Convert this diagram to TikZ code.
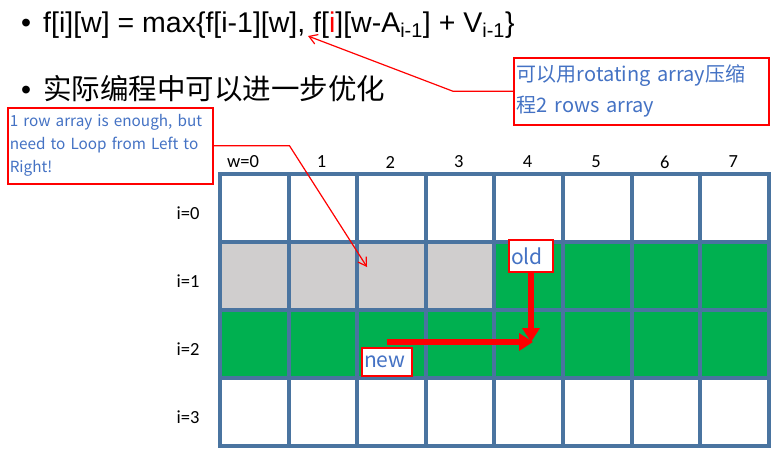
\documentclass[tikz,border=0pt]{standalone}
\usepackage{fontspec}
\setmainfont{Liberation Sans}
\newfontfamily\cjk{Noto Sans CJK SC}
\newfontfamily\labelfont{Carlito}
\usepackage{tikz}
\usetikzlibrary{arrows.meta, positioning, calc}
\usepackage{xcolor}
\definecolor{gridblue}{HTML}{4A74A0}
\definecolor{cellgray}{HTML}{D0CECE}
\definecolor{cellgreen}{HTML}{00B050}
\definecolor{notered}{HTML}{FF0000}
\definecolor{noteblue}{HTML}{4472C4}
\tikzstyle{cell} = [rectangle, draw=gridblue, line width=4pt, fill=white, minimum width=68.625pt, minimum height=68pt, inner sep=0pt]
\tikzstyle{callout} = [draw=notered, line width=1.2pt, -{Straight Barb[length=8pt,width=10pt]}]
\tikzstyle{bigarrow} = [draw=notered, line width=6pt, -{Triangle[length=14pt,width=17pt]}]
\tikzstyle{note} = [rectangle, draw=notered, line width=1.5pt, fill=white, align=left, text=noteblue]

\begin{document}
\begin{tikzpicture}[x=1pt, y=-1pt, every node/.style={font=\labelfont\fontsize{18.5}{22}\selectfont}]
    \useasboundingbox (0,0) rectangle (784,464);

    % Bullet lines
    \node (formula) [anchor=base west, inner sep=0pt, font=\fontsize{28.5}{34}\selectfont] at (21,32)
        {\makebox[22pt][l]{\textbullet}f[i][w] = max\{f[i-1][w], f[\textcolor{notered}{i}][w-A\textsubscript{i-1}] + V\textsubscript{i-1}\}};
    \node (optim) [anchor=base west, inner sep=0pt, font=\fontsize{28.5}{34}\selectfont] at (21,99)
        {\makebox[22pt][l]{\textbullet}{\cjk 实际编程中可以进一步优化}};

    % Table cells
    \foreach \c in {0,...,7} {
        \ifnum\c<4 \def\rowfill{cellgray}\else\def\rowfill{cellgreen}\fi
        \node (r0c\c) [cell] at (254.3+68.625*\c, 208) {};
        \node (r1c\c) [cell, fill=\rowfill] at (254.3+68.625*\c, 276) {};
        \node (r2c\c) [cell, fill=cellgreen] at (254.3+68.625*\c, 344) {};
        \node (r3c\c) [cell] at (254.3+68.625*\c, 412) {};
    }

    % Column and row labels
    \node (w0) at (243,162) {w=0};
    \foreach \c in {1,...,7}
        \node (w\c) at (253+68.625*\c, 162) {\c};
    \foreach \r in {0,...,3}
        \node (i\r) at (188, 213.5+68*\r) {i=\r};

    % Notes
    \node (rbox) [note, anchor=north west, minimum height=67pt, text width=249pt, inner sep=3pt,
          font=\cjk\fontsize{20}{31}\selectfont] at (513,57) {可以用rotating array压缩\\程2 rows array};
    \node (lbox) [note, anchor=north west, minimum height=76pt, text width=201pt, inner sep=2pt,
          font=\cjk\fontsize{15.3}{23}\selectfont] at (7,107) {1 row array is enough, but\\need to Loop from Left to\\Right!};

    \coordinate (ftip) at (308,36);
    \coordinate (gtip) at (367,267);
    \draw [callout] (rbox.west) -- ++(-60,0) -- (ftip);
    \draw [callout] (lbox.east) -- ++(76,0) -- (gtip);

    % old / new
    \node (old) [note, minimum height=32pt, text width=40pt, inner sep=2pt,
          font=\cjk\fontsize{21}{24}\selectfont] at (531,256) {old};
    \node (new) [note, minimum height=28pt, text width=46pt, inner sep=2pt,
          font=\cjk\fontsize{21}{24}\selectfont] at (387,362) {new};

    \coordinate (meet) at (533,342);
    \draw [bigarrow] (old.south) -- (old.south |- meet);
    \draw [bigarrow] (new.north |- meet) -- (meet);
\end{tikzpicture}
\end{document}
